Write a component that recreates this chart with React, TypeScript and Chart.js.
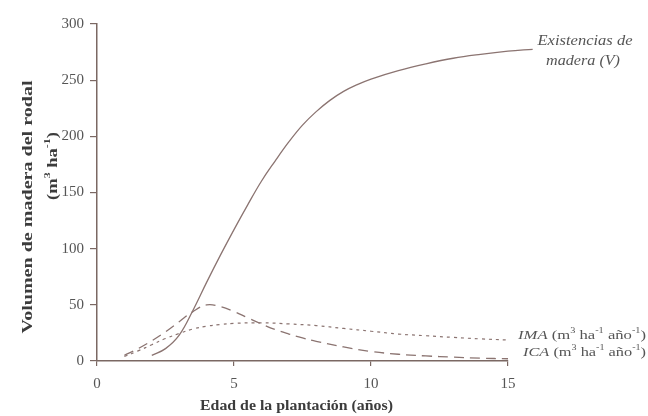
import React, { useEffect, useRef } from "react";
import { Chart, registerables } from "chart.js";

Chart.register(...registerables);

// ---- data ----
const ageV = [2, 2.5, 3, 3.5, 4, 4.5, 5, 5.5, 6, 6.5, 7, 7.5, 8, 8.5, 9, 9.5, 10, 11, 12, 13, 14, 15, 15.9];
const volumeV = [5, 11, 23, 45, 70, 94, 117, 139, 160, 178, 195, 210, 222, 232, 240, 246, 251, 258.5, 264.5, 269.5, 273, 275.8, 277.5];

const ageICA = [1, 1.5, 2, 2.5, 3, 3.5, 4, 4.5, 5, 5.5, 6, 6.5, 7, 7.5, 8, 9, 10, 11, 12, 13, 14, 15];
const valuesICA = [5, 11, 18, 26, 35, 44, 50, 48.5, 44, 38.5, 33, 28, 24, 20.5, 17.5, 12.5, 8.5, 6, 4.5, 3.5, 2.5, 2];

const ageIMA = [1, 1.5, 2, 2.5, 3, 3.5, 4, 4.5, 5, 6, 7, 8, 9, 10, 11, 12, 13, 14, 15];
const valuesIMA = [4, 9, 14.5, 20, 24.5, 28.5, 31, 32.5, 33.5, 34, 33, 31.5, 29, 26.5, 24, 22.5, 21, 19.7, 18.7];

const xTickValues = [0, 5, 10, 15];
const yTickValues = [0, 50, 100, 150, 200, 250, 300];

const SERIF = '"Liberation Serif", "DejaVu Serif", serif';
const LINE = "#8b7471";
const AXIS = "#7b6863";

type Run = { t: string; sup?: boolean; italic?: boolean };

function drawRuns(
  ctx: CanvasRenderingContext2D,
  runs: Run[],
  x: number,
  y: number,
  opts: { size: number; bold?: boolean; align: "left" | "center"; rot?: number; target?: number; color: string }
) {
  const fontFor = (r: Run) =>
    `${r.italic ? "italic " : ""}${opts.bold ? "bold " : ""}${r.sup ? Math.round(opts.size * 0.62) : opts.size}px ${SERIF}`;
  let total = 0;
  const widths = runs.map((r) => {
    ctx.font = fontFor(r);
    const w = ctx.measureText(r.t).width;
    total += w;
    return w;
  });
  const sx = opts.target ? opts.target / total : 1;
  ctx.save();
  ctx.translate(x, y);
  if (opts.rot) ctx.rotate(opts.rot);
  ctx.scale(sx, 1);
  ctx.fillStyle = opts.color;
  ctx.textBaseline = "middle";
  ctx.textAlign = "left";
  let cx = opts.align === "center" ? -total / 2 : 0;
  runs.forEach((r, i) => {
    ctx.font = fontFor(r);
    ctx.fillText(r.t, cx, r.sup ? -opts.size * 0.38 : 0);
    cx += widths[i];
  });
  ctx.restore();
}

const textPlugin = {
  id: "customTexts",
  afterDraw(chart: any) {
    const ctx: CanvasRenderingContext2D = chart.ctx;
    // y axis title
    drawRuns(ctx, [{ t: "Volumen de madera del rodal" }], 28.5, 207, {
      size: 14, bold: true, align: "center", rot: -Math.PI / 2, target: 253, color: "#3c3c3c",
    });
    drawRuns(ctx, [{ t: "(m" }, { t: "3", sup: true }, { t: " ha" }, { t: "-1", sup: true }, { t: ")" }], 53, 166, {
      size: 14, bold: true, align: "center", rot: -Math.PI / 2, target: 68, color: "#3c3c3c",
    });
    // x axis title
    drawRuns(ctx, [{ t: "Edad de la plantación (años)" }], 296.5, 406, {
      size: 14, bold: true, align: "center", target: 193, color: "#3c3c3c",
    });
    // series labels
    drawRuns(ctx, [{ t: "Existencias de", italic: true }], 585, 41.5, {
      size: 15, align: "center", target: 95, color: "#555",
    });
    drawRuns(ctx, [{ t: "madera (", italic: true }, { t: "V", italic: true }, { t: ")", italic: true }], 583, 61.5, {
      size: 15, align: "center", target: 74, color: "#555",
    });
    const unitRuns: Run[] = [
      { t: " (m" }, { t: "3", sup: true }, { t: " ha" }, { t: "-1", sup: true }, { t: " año" }, { t: "-1", sup: true }, { t: ")" },
    ];
    drawRuns(ctx, [{ t: "IMA", italic: true }, ...unitRuns], 518, 336, { size: 13, align: "left", target: 128, color: "#555" });
    drawRuns(ctx, [{ t: "ICA", italic: true }, ...unitRuns], 523, 353, { size: 13, align: "left", target: 123, color: "#555" });
  },
};

export default function App() {
  const ref = useRef<HTMLCanvasElement | null>(null);
  useEffect(() => {
    if (!ref.current) return;
    const toPts = (xs: number[], ys: number[]) => xs.map((x, i) => ({ x, y: ys[i] }));
    const chart = new Chart(ref.current, {
      type: "line",
      data: {
        datasets: [
          {
            label: "Existencias de madera (V)",
            data: toPts(ageV, volumeV),
            borderColor: LINE,
            borderWidth: 1.3,
            pointRadius: 0,
            tension: 0.4,
            clip: false,
            fill: false,
          },
          {
            label: "ICA",
            data: toPts(ageICA, valuesICA),
            borderColor: LINE,
            borderWidth: 1.3,
            borderDash: [10, 6],
            pointRadius: 0,
            tension: 0.4,
            fill: false,
          },
          {
            label: "IMA",
            data: toPts(ageIMA, valuesIMA),
            borderColor: LINE,
            borderWidth: 1.2,
            borderDash: [3, 4],
            pointRadius: 0,
            tension: 0.4,
            fill: false,
          },
        ],
      },
      options: {
        animation: false,
        responsive: true,
        maintainAspectRatio: false,
        layout: { padding: { left: 0, right: 140, top: 24, bottom: 0 } },
        plugins: { legend: { display: false }, tooltip: { enabled: false } },
        scales: {
          x: {
            type: "linear",
            bounds: "data",
            afterDataLimits: (s: any) => {
              s.min = 0;
              s.max = 15;
            },
            afterBuildTicks: (s: any) => {
              s.min = 0;
              s.max = 15;
              s.ticks = xTickValues.map((v) => ({ value: v }));
            },
            afterFit: (s: any) => {
              s.height = 55;
            },
            border: { display: true, color: AXIS, width: 1.5 },
            grid: { drawOnChartArea: false, drawTicks: true, tickLength: 5, color: AXIS, lineWidth: 1.2 },
            ticks: { color: "#555", font: { family: SERIF, size: 15 }, padding: 9, maxRotation: 0 },
          },
          y: {
            type: "linear",
            min: 0,
            max: 300,
            afterBuildTicks: (s: any) => {
              s.ticks = yTickValues.map((v) => ({ value: v }));
            },
            afterFit: (s: any) => {
              s.width = 97;
            },
            border: { display: true, color: AXIS, width: 1.5 },
            grid: { drawOnChartArea: false, drawTicks: true, tickLength: 7, color: AXIS, lineWidth: 1.2 },
            ticks: { color: "#555", font: { family: SERIF, size: 15 }, padding: 6 },
          },
        },
      },
      plugins: [textPlugin],
    } as any);
    return () => chart.destroy();
  }, []);
  return (
    <div style={{ position: "fixed", left: 0, top: 0, width: 648, height: 416, background: "#fff" }}>
      <canvas ref={ref} />
    </div>
  );
}
